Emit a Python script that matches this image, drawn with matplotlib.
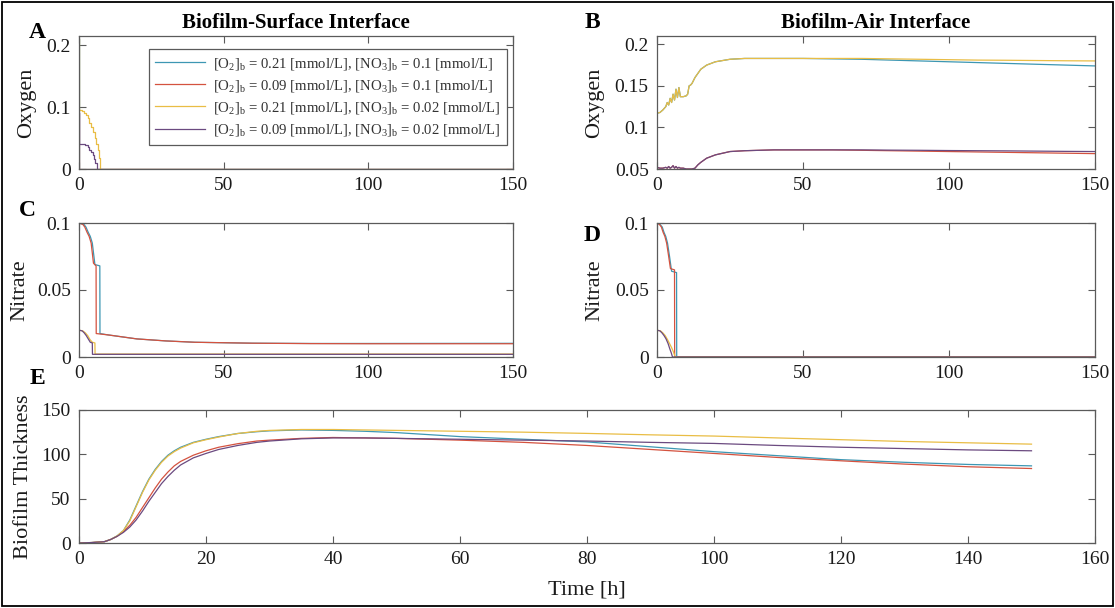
import matplotlib
matplotlib.use("Agg")
import matplotlib.pyplot as plt
from matplotlib.patches import Rectangle

plt.rcParams["font.family"] = ["Liberation Serif", "DejaVu Serif"]
plt.rcParams["mathtext.fontset"] = "custom"
plt.rcParams["mathtext.rm"] = "Liberation Serif"
plt.rcParams["mathtext.it"] = "Liberation Serif:italic"
plt.rcParams["mathtext.bf"] = "Liberation Serif:bold"

# series colours (MATLAB-like order, as they look in the scan)
COLORS = ["#3d97b3", "#d4523f", "#e9bd45", "#6b4a80"]

LABELS = [
    r"$[\mathrm{O_2}]_\mathrm{b}$ = 0.21 [mmol/L], $[\mathrm{NO_3}]_\mathrm{b}$ = 0.1 [mmol/L]",
    r"$[\mathrm{O_2}]_\mathrm{b}$ = 0.09 [mmol/L], $[\mathrm{NO_3}]_\mathrm{b}$ = 0.1 [mmol/L]",
    r"$[\mathrm{O_2}]_\mathrm{b}$ = 0.21 [mmol/L], $[\mathrm{NO_3}]_\mathrm{b}$ = 0.02 [mmol/L]",
    r"$[\mathrm{O_2}]_\mathrm{b}$ = 0.09 [mmol/L], $[\mathrm{NO_3}]_\mathrm{b}$ = 0.02 [mmol/L]",
]

# ---- A: oxygen, biofilm-surface interface (step data) ----
a_t_hi = [0, 0.05, 150]
a_teal = [0.21, 0.0, 0.0]
a_red = [0.09, 0.0, 0.0]
a_t_yel = [0, 0.05, 1.2, 1.8, 2.4, 3.0, 3.6, 4.2, 4.8, 5.4, 6.0, 6.5, 6.9, 7.3, 150]
a_yel = [0.21, 0.095, 0.094, 0.091, 0.087, 0.082, 0.075, 0.068, 0.06, 0.05, 0.04, 0.03, 0.018, 0.0, 0.0]
a_t_pur = [0, 0.05, 1.3, 2.2, 3.0, 3.6, 4.2, 4.8, 5.3, 5.7, 6.1, 150]
a_pur = [0.09, 0.041, 0.04, 0.038, 0.035, 0.031, 0.027, 0.022, 0.016, 0.009, 0.0, 0.0]

# ---- B: oxygen, biofilm-air interface ----
b_t = [0, 1, 2, 3, 3.5, 4, 4.5, 5, 5.5, 6, 6.5, 7, 7.5, 8, 9, 10, 10.5, 11, 11.5,
       12, 13, 14, 15, 17, 20, 25, 30, 40, 50, 60, 70, 80, 90, 100, 110, 120, 130, 140, 150]
b_teal = [0.117, 0.118, 0.121, 0.125, 0.13, 0.127, 0.135, 0.13, 0.14, 0.133, 0.146, 0.136,
          0.148, 0.137, 0.137, 0.138, 0.14, 0.15, 0.151, 0.153, 0.16, 0.165, 0.17, 0.175,
          0.179, 0.182, 0.183, 0.183, 0.183, 0.1825, 0.182, 0.181, 0.18, 0.179, 0.178,
          0.177, 0.176, 0.175, 0.174]
b_yel = [0.117, 0.118, 0.121, 0.125, 0.13, 0.127, 0.135, 0.13, 0.14, 0.133, 0.146, 0.136,
         0.148, 0.137, 0.137, 0.138, 0.14, 0.15, 0.151, 0.153, 0.16, 0.165, 0.17, 0.175,
         0.179, 0.182, 0.183, 0.183, 0.183, 0.183, 0.183, 0.1825, 0.182, 0.1815, 0.181,
         0.1808, 0.1805, 0.1802, 0.18]
b_red = [0.052, 0.051, 0.051, 0.052, 0.051, 0.053, 0.051, 0.052, 0.054, 0.051, 0.053, 0.051,
         0.052, 0.051, 0.051, 0.05, 0.05, 0.05, 0.05, 0.05, 0.051, 0.055, 0.058, 0.063,
         0.067, 0.071, 0.072, 0.073, 0.073, 0.073, 0.0725, 0.072, 0.0715, 0.071, 0.0705,
         0.07, 0.0695, 0.069, 0.0685]
b_pur = [0.052, 0.051, 0.051, 0.052, 0.051, 0.053, 0.051, 0.052, 0.054, 0.051, 0.053, 0.051,
         0.052, 0.051, 0.051, 0.05, 0.05, 0.05, 0.05, 0.05, 0.051, 0.055, 0.058, 0.063,
         0.067, 0.071, 0.072, 0.073, 0.073, 0.073, 0.073, 0.0727, 0.0725, 0.0722, 0.072,
         0.0718, 0.0715, 0.0712, 0.071]

# ---- C: nitrate, biofilm-surface interface ----
c_t_teal = [0, 1.7, 2.4, 3.2, 3.9, 4.6, 5.5, 7.2, 7.25, 10, 15, 20, 30, 40, 60, 80, 100, 150]
c_teal = [0.1, 0.099, 0.097, 0.093, 0.09, 0.085, 0.069, 0.068, 0.0175, 0.0165, 0.015,
          0.0135, 0.012, 0.011, 0.0103, 0.0101, 0.0101, 0.0102]
c_t_red = [0, 1.3, 2.0, 2.8, 3.5, 4.2, 5.0, 5.9, 5.95, 10, 15, 20, 30, 40, 60, 80, 100, 150]
c_red = [0.1, 0.099, 0.097, 0.093, 0.09, 0.085, 0.07, 0.068, 0.0175, 0.0165, 0.015,
         0.0135, 0.012, 0.011, 0.0103, 0.01, 0.0099, 0.0099]
c_t_yel = [0, 1.3, 2.2, 3.0, 3.8, 4.6, 5.5, 5.55, 150]
c_yel = [0.02, 0.0195, 0.018, 0.016, 0.013, 0.011, 0.0105, 0.0022, 0.0022]
c_t_pur = [0, 1.1, 1.8, 2.5, 3.2, 3.9, 4.6, 4.65, 150]
c_pur = [0.02, 0.0195, 0.018, 0.016, 0.0135, 0.011, 0.0105, 0.002, 0.002]

# ---- D: nitrate, biofilm-air interface ----
d_t_teal = [0, 1.0, 1.8, 2.4, 3.0, 3.6, 4.3, 5.0, 6.7, 6.75, 150]
d_teal = [0.1, 0.099, 0.097, 0.093, 0.09, 0.085, 0.075, 0.064, 0.063, 0.0, 0.0]
d_t_red = [0, 0.8, 1.5, 2.1, 2.7, 3.3, 4.0, 4.6, 6.0, 6.05, 150]
d_red = [0.1, 0.099, 0.097, 0.093, 0.09, 0.085, 0.075, 0.066, 0.065, 0.0, 0.0]
d_t_yel = [0, 1.2, 2.0, 2.8, 3.6, 4.3, 5.0, 5.6, 6.2, 150]
d_yel = [0.02, 0.0195, 0.018, 0.016, 0.013, 0.01, 0.007, 0.004, 0.0, 0.0]
d_t_pur = [0, 1.0, 1.7, 2.4, 3.1, 3.8, 4.4, 4.9, 5.3, 150]
d_pur = [0.02, 0.0195, 0.018, 0.016, 0.0135, 0.01, 0.006, 0.003, 0.0, 0.0]

# ---- E: biofilm thickness ----
e_t = [0, 2, 4, 5, 6, 7, 8, 9, 10, 11, 12, 13, 14, 15, 16, 18, 20, 22, 25, 28, 30,
       35, 40, 45, 50, 60, 70, 80, 90, 100, 110, 120, 130, 140, 150]
e_teal = [0, 0.5, 1.5, 4, 8, 14, 26, 42, 58, 72, 83, 92, 99, 104, 108, 113.5, 117, 120,
          123.5, 125.5, 126.5, 127.5, 127, 126, 124.5, 120, 117, 114, 108.5, 103, 98.5,
          94, 91, 88.6, 87]
e_red = [0, 0.5, 1.5, 4, 7.5, 13, 20, 29, 40, 51, 62, 72, 80, 87, 92, 99, 104, 108,
         112, 115, 116, 118, 119, 118.5, 118, 116, 113.5, 110, 105.5, 101, 96.5, 92.7,
         89, 86, 84]
e_yel = [0, 0.5, 1.5, 4, 8, 14, 25, 41, 57, 71, 82, 91, 98, 103, 107, 113, 116.5,
         119.5, 123.5, 126, 127, 128, 128, 127.5, 127, 126, 125, 123.6, 122, 120.6,
         118.5, 116.5, 114.5, 113, 111.5]
e_pur = [0, 0.5, 1.5, 4, 7.5, 12, 18, 26, 36, 47, 57, 67, 75, 82, 88, 96, 101, 105.5,
         110, 113.5, 115, 117.5, 118.5, 118.5, 118, 117, 116, 115, 113.5, 112.3, 110,
         108, 106.5, 105, 104]

FW, FH = 1115, 608
SPINE = "#5a5a5a"


def pos(left, top, width, height):
    return [left / FW, 1 - (top + height) / FH, width / FW, height / FH]


def style(ax, xticks, yticks, xlim, ylim):
    ax.set_xlim(*xlim)
    ax.set_ylim(*ylim)
    ax.set_xticks(xticks)
    ax.set_yticks(yticks)
    ax.set_xticklabels([f"{v:g}" for v in xticks])
    ax.set_yticklabels([f"{v:g}" for v in yticks])
    ax.tick_params(direction="in", top=True, right=True, length=5, width=0.8,
                   color=SPINE, labelsize=14, labelcolor="#1a1a1a", pad=6)
    for s in ax.spines.values():
        s.set_color(SPINE)
        s.set_linewidth(0.9)


def ylab(ax, text, xc):
    ax.set_ylabel(text, fontsize=16, color="#1a1a1a")
    ax.yaxis.set_label_coords(xc, 0.5)
    ax.yaxis.label.set_verticalalignment("center")


fig = plt.figure(figsize=(FW / 100, FH / 100), dpi=100)
lw = 0.9

axA = fig.add_axes(pos(79, 36, 434, 133))
axA.plot(a_t_hi, a_teal, color=COLORS[0], lw=lw, drawstyle="steps-post", label=LABELS[0])
axA.plot(a_t_hi, a_red, color=COLORS[1], lw=lw, drawstyle="steps-post", label=LABELS[1])
axA.plot(a_t_yel, a_yel, color=COLORS[2], lw=lw, drawstyle="steps-post", label=LABELS[2])
axA.plot(a_t_pur, a_pur, color=COLORS[3], lw=lw, drawstyle="steps-post", label=LABELS[3])
style(axA, [0, 50, 100, 150], [0, 0.1, 0.2], (0, 150), (0, 0.215))
ylab(axA, "Oxygen", -0.12)
axA.set_title("Biofilm-Surface Interface", fontsize=15, fontweight="bold", pad=6)
leg = axA.legend(loc="upper right", bbox_to_anchor=(0.986, 0.902), borderaxespad=0,
                 fontsize=10.6, handlelength=3.4, labelspacing=0.42, fancybox=False,
                 edgecolor=SPINE, framealpha=1, borderpad=0.45, handletextpad=0.5)
leg.get_frame().set_linewidth(0.9)
for txt in leg.get_texts():
    txt.set_color("#333333")

axB = fig.add_axes(pos(657, 36, 438, 133))
axB.plot(b_t, b_teal, color=COLORS[0], lw=lw)
axB.plot(b_t, b_red, color=COLORS[1], lw=lw)
axB.plot(b_t, b_yel, color=COLORS[2], lw=lw)
axB.plot(b_t, b_pur, color=COLORS[3], lw=lw)
style(axB, [0, 50, 100, 150], [0.05, 0.1, 0.15, 0.2], (0, 150), (0.05, 0.21))
ylab(axB, "Oxygen", -0.142)
axB.set_title("Biofilm-Air Interface", fontsize=15, fontweight="bold", pad=6)

axC = fig.add_axes(pos(79, 223, 434, 134))
axC.plot(c_t_teal, c_teal, color=COLORS[0], lw=lw)
axC.plot(c_t_red, c_red, color=COLORS[1], lw=lw)
axC.plot(c_t_yel, c_yel, color=COLORS[2], lw=lw)
axC.plot(c_t_pur, c_pur, color=COLORS[3], lw=lw)
style(axC, [0, 50, 100, 150], [0, 0.05, 0.1], (0, 150), (0, 0.1))
ylab(axC, "Nitrate", -0.136)

axD = fig.add_axes(pos(657, 223, 438, 134))
axD.plot(d_t_teal, d_teal, color=COLORS[0], lw=lw)
axD.plot(d_t_red, d_red, color=COLORS[1], lw=lw)
axD.plot(d_t_yel, d_yel, color=COLORS[2], lw=lw)
axD.plot(d_t_pur, d_pur, color=COLORS[3], lw=lw)
style(axD, [0, 50, 100, 150], [0, 0.05, 0.1], (0, 150), (0, 0.1))
ylab(axD, "Nitrate", -0.142)

axE = fig.add_axes(pos(79, 410, 1016, 133))
axE.plot(e_t, e_teal, color=COLORS[0], lw=lw)
axE.plot(e_t, e_red, color=COLORS[1], lw=lw)
axE.plot(e_t, e_yel, color=COLORS[2], lw=lw)
axE.plot(e_t, e_pur, color=COLORS[3], lw=lw)
style(axE, list(range(0, 161, 20)), [0, 50, 100, 150], (0, 160), (0, 150))
ylab(axE, "Biofilm Thickness", -0.055)
axE.set_xlabel("Time [h]", fontsize=16, color="#1a1a1a", labelpad=9)

# panel letters
for letter, x, y in [("A", 37, 32), ("B", 592, 22), ("C", 27, 210),
                     ("D", 592, 236), ("E", 37, 378)]:
    fig.text(x / FW, 1 - y / FH, letter, fontsize=17, fontweight="bold",
             ha="center", va="center")

fig.patches.append(Rectangle((0.0015, 0.0025), 0.997, 0.995, transform=fig.transFigure,
                             fill=False, edgecolor="black", linewidth=1.3))

fig.savefig("out.png", dpi=100)
